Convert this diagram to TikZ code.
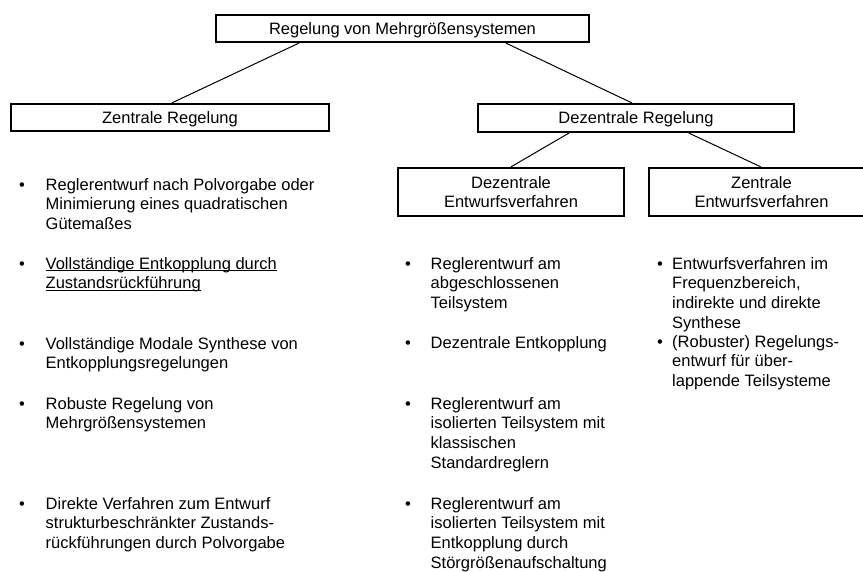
\documentclass[tikz,border=0pt]{standalone}
\usepackage{fontspec}
\setmainfont{Liberation Sans}
\newcommand\fsz{\fontsize{16.5pt}{19.8pt}\selectfont}
\newcommand\ulin[1]{\setbox0\hbox{#1}\rlap{\rule[-2.3pt]{\wd0}{0.9pt}}\box0}
\newcommand\bul[2]{\makebox[#1][l]{•}\begin{tabular}[t]{@{}l@{}}#2\end{tabular}}
\begin{document}
\begin{tikzpicture}[x=1pt,y=-1pt,
  box/.style={draw, line width=2.2pt, inner sep=0pt, align=center, font=\fsz},
  one/.style={text height=11.8pt, text depth=0pt},
  conn/.style={line width=1pt},
  itm/.style={anchor=base west, inner sep=0pt, font=\fsz}]
\useasboundingbox (0,0) rectangle (863,571);
\clip (0,0) rectangle (863,571);
% boxes
\node[box,one,minimum width=373pt,minimum height=27pt] (top) at (402.5,28.5) {Regelung von Mehrgrößensystemen};
\node[box,one,minimum width=318pt,minimum height=27pt] (zr) at (170,117.5) {Zentrale Regelung};
\node[box,one,minimum width=316pt,minimum height=28pt] (dr) at (636,118) {Dezentrale Regelung};
\node[box,minimum width=226pt,minimum height=48pt] (de) at (511,192) {Dezentrale\\Entwurfsverfahren};
\node[box,minimum width=225pt,minimum height=48pt] (ze) at (761.5,192) {Zentrale\\Entwurfsverfahren};
% connectors
\draw[conn] ([xshift=84pt]top.south west) -- ([xshift=162pt]zr.north west);
\draw[conn] ([xshift=291pt]top.south west) -- ([xshift=155pt]dr.north west);
\draw[conn] ([xshift=92pt]dr.south west) -- ([xshift=114pt]de.north west);
\draw[conn] ([xshift=212pt]dr.south west) -- ([xshift=113pt]ze.north west);
% left column
\node[itm] (a1) at (19,190) {\bul{26.5pt}{Reglerentwurf nach Polvorgabe oder\\Minimierung eines quadratischen\\Gütemaßes}};
\node[itm] (a2) at (19,269) {\bul{26.5pt}{\ulin{Vollständige Entkopplung durch}\\\ulin{Zustandsrückführung}}};
\node[itm] (a3) at (19,349) {\bul{26.5pt}{Vollständige Modale Synthese von\\Entkopplungsregelungen}};
\node[itm] (a4) at (19,409) {\bul{26.5pt}{Robuste Regelung von\\Mehrgrößensystemen}};
\node[itm] (a5) at (19,509) {\bul{26.5pt}{Direkte Verfahren zum Entwurf\\strukturbeschränkter Zustands-\\rückführungen durch Polvorgabe}};
% middle column
\node[itm] (b1) at (405,269) {\bul{25.5pt}{Reglerentwurf am\\abgeschlossenen\\Teilsystem}};
\node[itm] (b2) at (405,348) {\bul{25.5pt}{Dezentrale Entkopplung}};
\node[itm] (b3) at (405,409) {\bul{25.5pt}{Reglerentwurf am\\isolierten Teilsystem mit\\klassischen\\Standardreglern}};
\node[itm] (b4) at (405,509) {\bul{25.5pt}{Reglerentwurf am\\isolierten Teilsystem mit\\Entkopplung durch\\Störgrößenaufschaltung}};
% right column
\node[itm] (c1) at (657,269) {\bul{15pt}{Entwurfsverfahren im\\Frequenzbereich,\\indirekte und direkte\\Synthese}};
\node[itm] (c2) at (657,347) {\bul{15pt}{(Robuster) Regelungs-\\entwurf für über-\\lappende Teilsysteme}};
\end{tikzpicture}
\end{document}
